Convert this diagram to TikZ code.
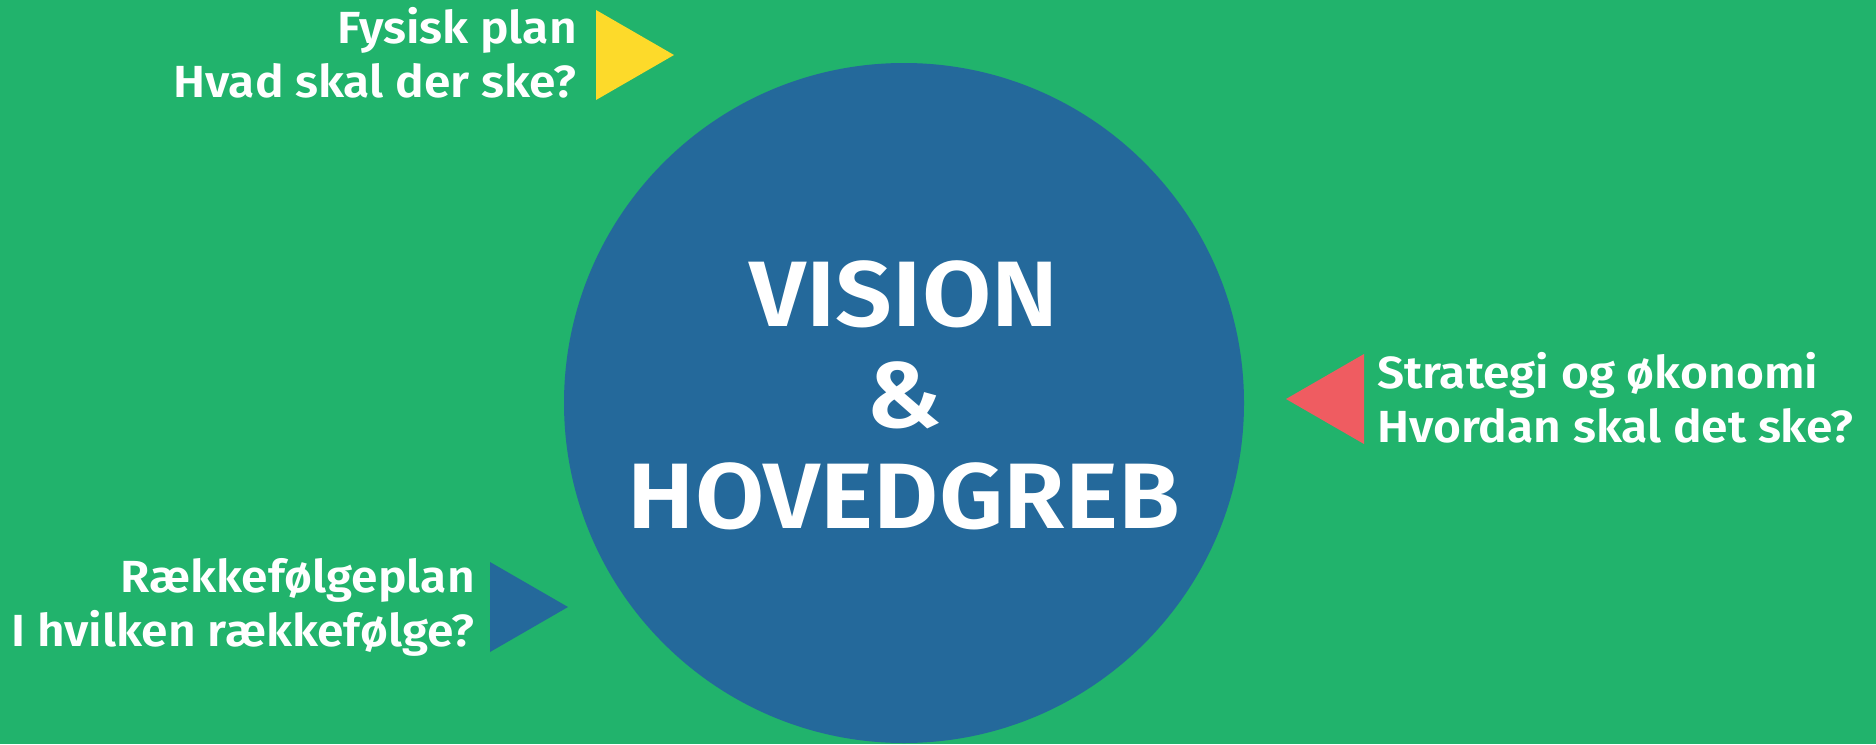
\documentclass[tikz,border=0pt]{standalone}
\usepackage{fontspec}
\setmainfont{Fira Sans}[FakeStretch=1.08, BoldFont={Fira Sans SemiBold}, BoldFeatures={FakeStretch=1.08}]
\newfontfamily\lblfont{Fira Sans SemiBold}[FakeStretch=1.065]
\definecolor{bggreen}{HTML}{21B36C}
\definecolor{circblue}{HTML}{24699B}
\definecolor{triyellow}{HTML}{FDDA2A}
\definecolor{trired}{HTML}{EF5C61}
\tikzset{
  lbl/.style={text=white, inner sep=0pt, font=\lblfont\fontsize{45}{54}\selectfont},
  ttl/.style={text=white, inner sep=0pt, align=center, font=\bfseries\fontsize{93}{101}\selectfont},
}
\begin{document}
\begin{tikzpicture}[x=1pt,y=-1pt]
\fill[bggreen] (0,0) rectangle (1876,744);
\useasboundingbox (0,0) rectangle (1876,744);
% circle
\node[circle, fill=circblue, minimum size=680pt, inner sep=0pt] (core) at (904,403) {};
\node[ttl, anchor=base] (title) at (904,528) {VISION\\\&\\HOVEDGREB};
% yellow
\fill[triyellow] (596,10) -- (674,55) -- (596,100) -- cycle;
\node[lbl, align=right, anchor=base east] (fys) at (577,97) {Fysisk plan\\Hvad skal der ske?};
% red
\fill[trired] (1364,354) -- (1286,399) -- (1364,444) -- cycle;
\node[lbl, align=left, anchor=base west] (strat) at (1377,442) {Strategi og økonomi\\Hvordan skal det ske?};
% blue
\fill[circblue] (490,562) -- (568,607) -- (490,652) -- cycle;
\node[lbl, align=right, anchor=base east] (raek) at (475,646) {Rækkefølgeplan\\I hvilken rækkefølge?};
\end{tikzpicture}
\end{document}
